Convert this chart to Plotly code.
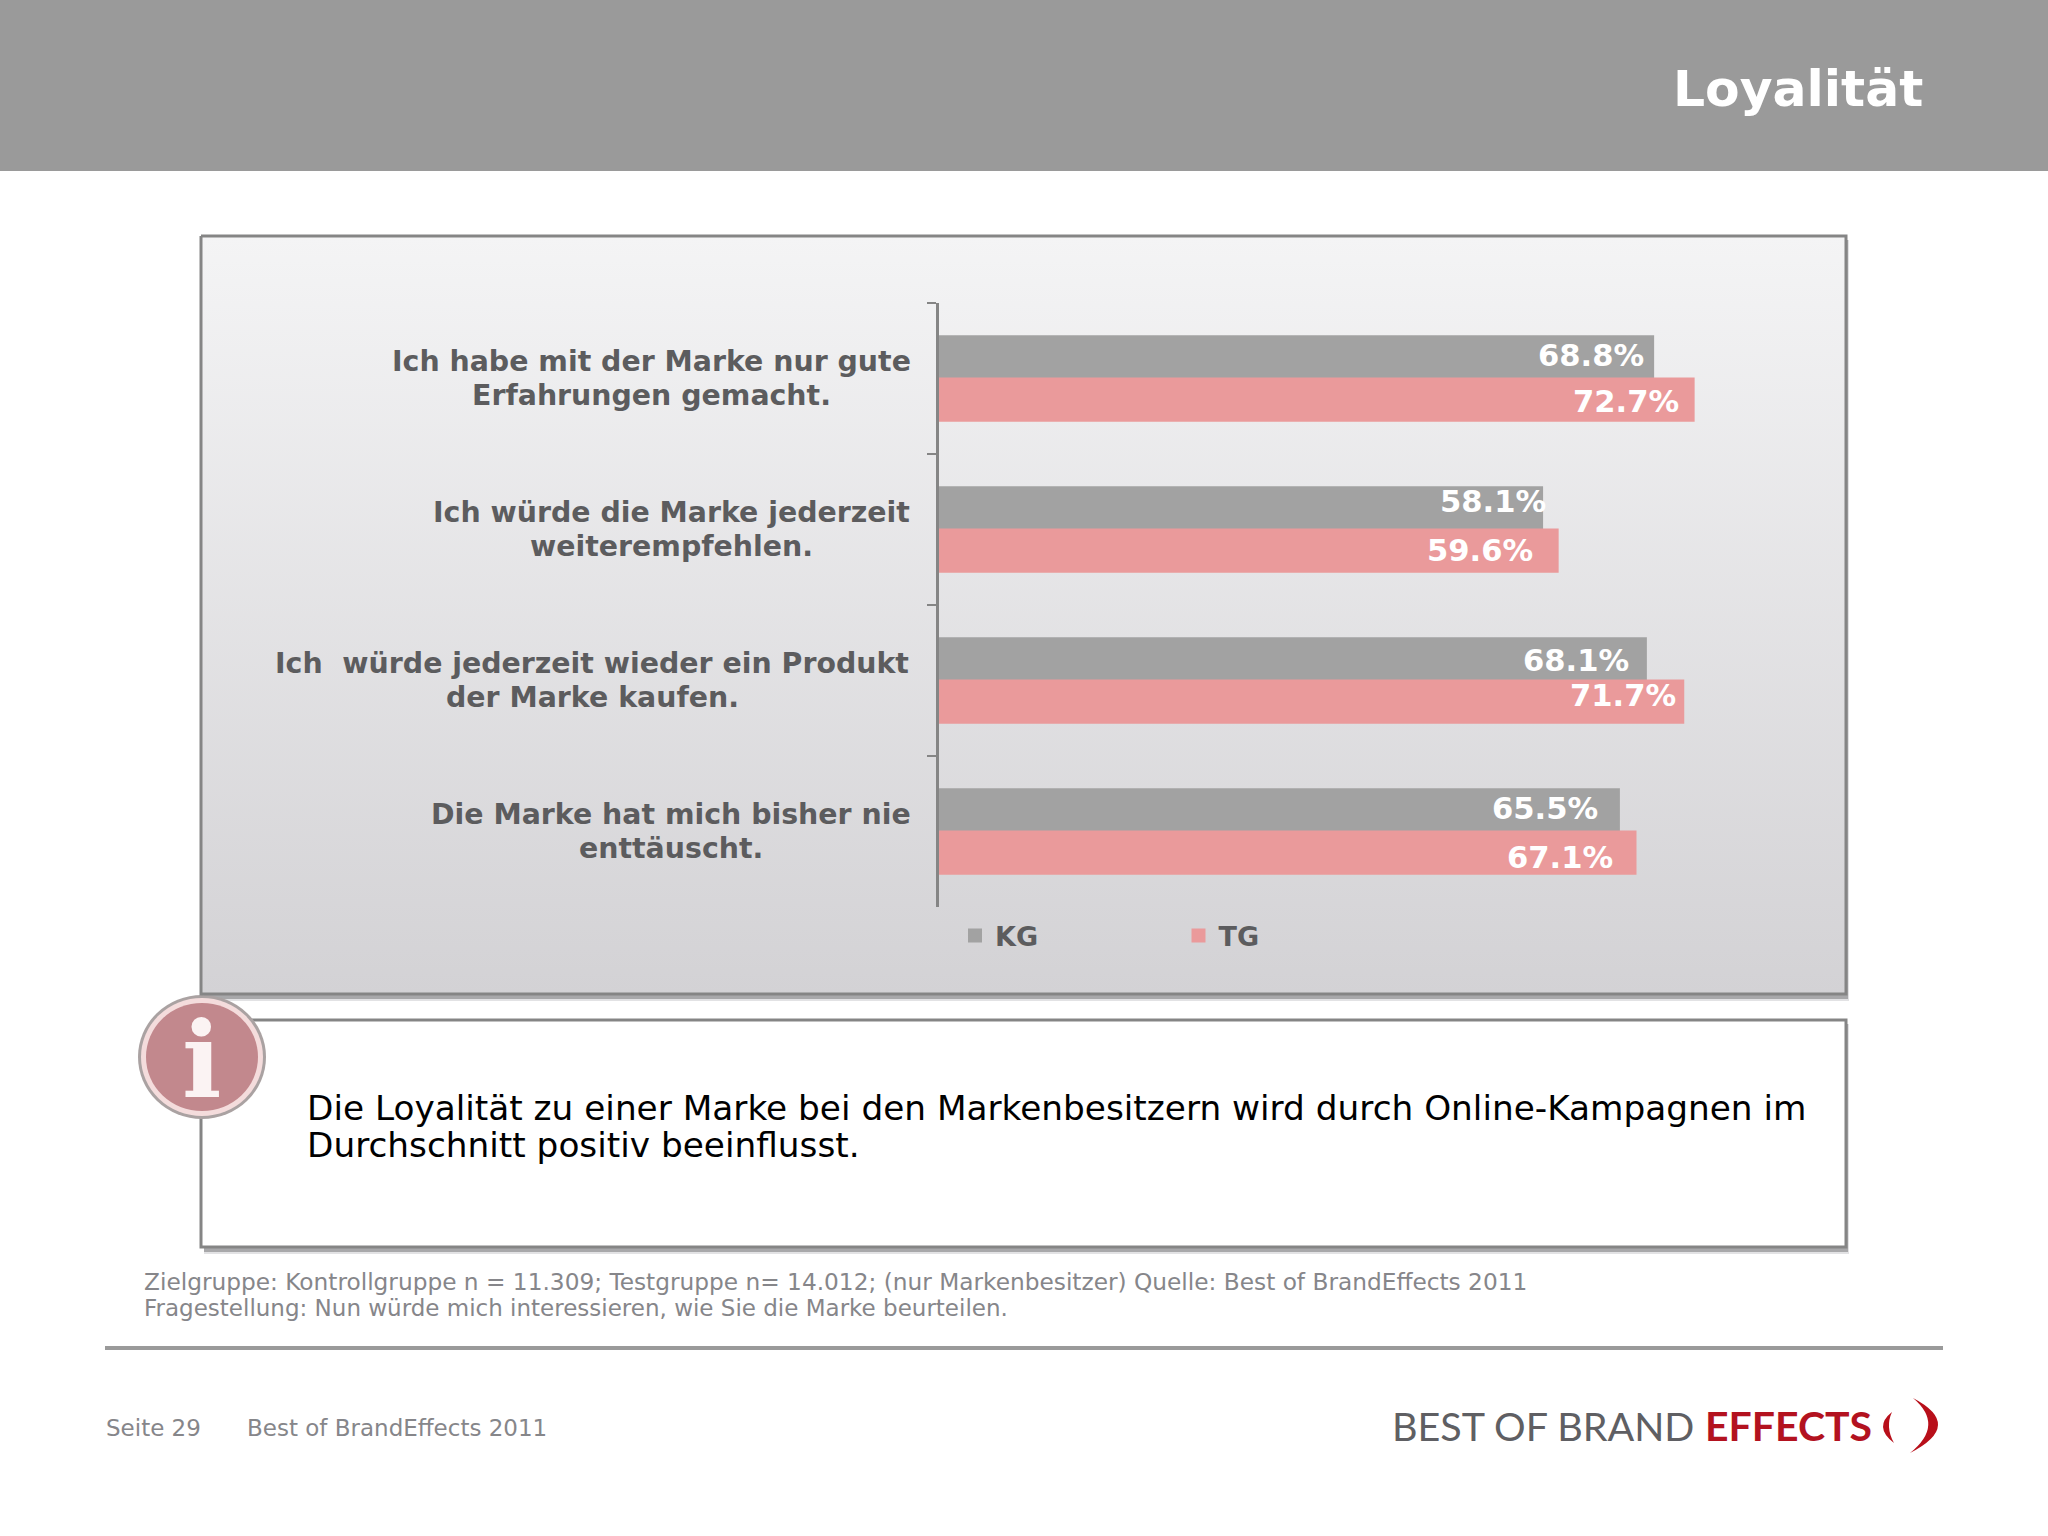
import plotly.graph_objects as go

# ---- data ---------------------------------------------------------------
statements = [
    "Ich habe mit der Marke nur gute<br>Erfahrungen gemacht.",
    "Ich würde die Marke jederzeit<br>weiterempfehlen.",
    "Ich  würde jederzeit wieder ein Produkt<br>der Marke kaufen.",
    "Die Marke hat mich bisher nie<br>enttäuscht.",
]
kg_values = [68.8, 58.1, 68.1, 65.5]
tg_values = [72.7, 59.6, 71.7, 67.1]

# hand placed data labels in the original slide (pixels from bar end / bar centre)
kg_xshift = [-8, 5, -16, -20]
kg_yshift = [1, 6, -2, 1]
tg_xshift = [-14, -24, -6, -22]
tg_yshift = [-1, 1, 7, -4]
# centre of each two line statement label, pixels on the slide
label_centre = [651, 671, 592, 671]

# ---- palette ------------------------------------------------------------
HEADER = "#9a9a9a"
KG_GREY = "#a2a2a2"
TG_PINK = "#ea9a9b"
BORDER = "#858585"
LABEL = "#5c5c5e"
NOTE = "#86868a"
FONT = "DejaVu Sans"

W, H = 2048, 1536
AXIS_X0, AXIS_Y_TOP, AXIS_Y_BOTTOM = 939, 303, 907
PX_PER_PCT = 10.38
X_MAX = 80


def rect(x0, y0, x1, y1, fill, line=None, width=0):
    return dict(type="rect", xref="x", yref="y", x0=x0, y0=y0, x1=x1, y1=y1,
                fillcolor=fill, line=dict(color=line or fill, width=width), layer="below")


def circle(cx, cy, rx, ry, fill):
    return dict(type="circle", xref="x", yref="y", x0=cx - rx, x1=cx + rx, y0=cy - ry, y1=cy + ry,
                fillcolor=fill, line=dict(width=0), layer="below")


def text(x, y, s, size, color, anchor="left", bold=False, family=FONT):
    return dict(x=x, y=y, xref="x", yref="y", text=f"<b>{s}</b>" if bold else s, showarrow=False,
                xanchor=anchor, yanchor="middle", borderpad=0, borderwidth=0,
                font=dict(family=family, size=size, color=color))


fig = go.Figure()

# ---- slide background on pixel axes (x / y), chart goes on x2 / y2 above ----
fig.add_trace(go.Scatter(
    x=[201, 1846, 1846, 201, 201], y=[236, 236, 994, 994, 236],
    mode="lines", fill="toself",
    fillgradient=dict(type="vertical", colorscale=[[0, "#d3d2d5"], [1, "#f4f4f5"]]),
    line=dict(color=BORDER, width=3),
    xaxis="x", yaxis="y", hoverinfo="skip", showlegend=False,
))

# ---- bars ---------------------------------------------------------------
fig.add_trace(go.Bar(y=statements, x=kg_values, name="KG", orientation="h",
                     marker=dict(color=KG_GREY, line=dict(color=KG_GREY, width=2)),
                     xaxis="x2", yaxis="y2"))
fig.add_trace(go.Bar(y=statements, x=tg_values, name="TG", orientation="h",
                     marker=dict(color=TG_PINK, line=dict(color=TG_PINK, width=2)),
                     xaxis="x2", yaxis="y2"))

shapes = [
    rect(0, 0, W, 171, HEADER),
    # panel shadows, tight and dark like the slide
    rect(204, 240, 1849, 1001, "#e2e2e4"),
    rect(204, 240, 1848, 999, "#a8a8aa"),
    rect(204, 1024, 1849, 1254, "#e2e2e4"),
    rect(204, 1024, 1848, 1252, "#a8a8aa"),
    rect(201, 1020, 1846, 1247, "white", BORDER, 3),
    # info icon
    circle(202, 1057, 64, 62, "#aaa2a2"),
    circle(202, 1057, 61, 59, "#f4dcdc"),
    circle(202, 1057, 56, 54, "#c2888d"),
    # footer rule
    rect(105, 1346, 1943, 1350, "#9a9a9a"),
    # logo brackets
    dict(type="path", xref="x", yref="y", layer="below", fillcolor="#b80f1a", line=dict(width=0),
         path="M1913,1398 Q1964.5,1425 1910,1453 Q1945,1425 1913,1398 Z"),
    dict(type="path", xref="x", yref="y", layer="below", fillcolor="#b80f1a", line=dict(width=0),
         path="M1892,1412 Q1873,1427 1894,1443 Q1885,1427 1892,1412 Z"),
]

annotations = [
    text(1923, 88, "Loyalität", 50.4, "white", "right", bold=True),
    text(307, 1108, "Die Loyalität zu einer Marke bei den Markenbesitzern wird durch Online-Kampagnen im", 34.3, "black"),
    text(307, 1145, "Durchschnitt positiv beeinflusst.", 34.3, "black"),
    text(144, 1281, "Zielgruppe: Kontrollgruppe n = 11.309; Testgruppe n= 14.012; (nur Markenbesitzer) Quelle: Best of BrandEffects 2011", 23.26, NOTE),
    text(144, 1308, "Fragestellung: Nun würde mich interessieren, wie Sie die Marke beurteilen.", 23, NOTE),
    text(106, 1428, "Seite 29", 23, NOTE),
    text(247, 1428, "Best of BrandEffects 2011", 23, NOTE),
    text(202, 1060, "i", 104, "#fbf3f3", "center", bold=True, family="DejaVu Serif"),
    text(1392, 1425, "BEST OF BRAND", 39.5, "#5f5f63", family="Lato"),
    text(1705, 1425, "EFFECTS", 41, "#b3121f", bold=True, family="Lato"),
]

# statement labels, two annotations per row since the slide has tighter line spacing
for i, s in enumerate(statements):
    for line, dy in zip(s.split("<br>"), [17.3, -17.3]):
        annotations.append(dict(
            x=label_centre[i], xref="x", y=i, yref="y2", text=f"<b>{line}</b>", showarrow=False,
            xanchor="center", yanchor="middle", yshift=dy, borderpad=0,
            font=dict(family=FONT, size=28.4, color=LABEL),
        ))

# data labels
for i in range(len(statements)):
    for val, dx, dy, off in [(kg_values[i], kg_xshift[i], kg_yshift[i], -0.143),
                             (tg_values[i], tg_xshift[i], tg_yshift[i], 0.143)]:
        annotations.append(dict(
            x=val, xref="x2", y=i + off, yref="y2", text=f"<b>{val:.1f}%</b>", showarrow=False,
            xanchor="right", yanchor="middle", xshift=dx, yshift=dy, borderpad=0,
            font=dict(family=FONT, size=30.6, color="white"),
        ))

fig.update_layout(
    width=W, height=H,
    margin=dict(l=0, r=0, t=0, b=0),
    paper_bgcolor="white", plot_bgcolor="rgba(0,0,0,0)",
    barmode="group", bargap=0.44, bargroupgap=0,
    shapes=shapes, annotations=annotations,
    showlegend=True,
    legend=dict(orientation="h", x=955 / W, xanchor="left", y=1 - 936 / H, yanchor="middle",
                entrywidth=178.5, entrywidthmode="pixels", bgcolor="rgba(0,0,0,0)",
                traceorder="normal",
                font=dict(family=FONT, size=27, color=LABEL, weight="bold")),
    xaxis=dict(domain=[0, 1], range=[0, W], visible=False, fixedrange=True),
    yaxis=dict(domain=[0, 1], range=[H, 0], visible=False, fixedrange=True),
    xaxis2=dict(domain=[AXIS_X0 / W, (AXIS_X0 + X_MAX * PX_PER_PCT) / W], range=[0, X_MAX],
                anchor="y2", visible=False, fixedrange=True),
    yaxis2=dict(domain=[1 - AXIS_Y_BOTTOM / H, 1 - AXIS_Y_TOP / H], anchor="x2",
                type="category", categoryorder="array", categoryarray=statements,
                range=[3.5, -0.5], tickson="boundaries", ticks="outside", ticklen=9, tickwidth=2,
                tickcolor=BORDER, showline=True, linecolor=BORDER, linewidth=2.5,
                showticklabels=False, showgrid=False, fixedrange=True),
)

# page margin would push the slide 8px off the corner
fig.write_html("out.html", config={"displayModeBar": False},
               post_script="document.body.style.margin='0';")
